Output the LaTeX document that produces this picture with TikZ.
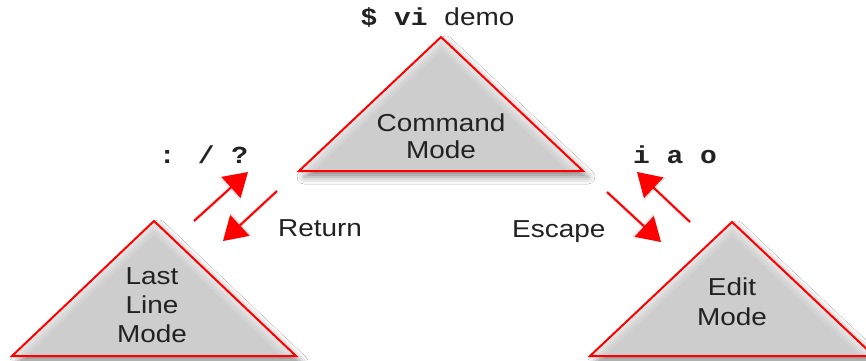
\documentclass[tikz,border=0pt]{standalone}
\usepackage{fontspec}
\usetikzlibrary{arrows.meta,shadows.blur,calc}
\newfontfamily\labfont[FakeStretch=1.14]{Liberation Sans}
\newfontfamily\cmdfont[FakeStretch=1.14]{Liberation Mono}
\definecolor{modered}{HTML}{FF0000}
\definecolor{modegray}{HTML}{CDCDCD}
\definecolor{ink}{HTML}{222222}

\tikzset{
  modeface/.style={fill=modegray,
    blur shadow={shadow xshift=5pt, shadow yshift=-6pt,
                 shadow blur radius=7pt, shadow opacity=45}},
  modeedge/.style={draw=modered, line width=2pt, line join=miter},
  modelabel/.style={font=\labfont\fontsize{24.5}{28}\selectfont,
                    text=ink, align=center, inner sep=0pt},
  keylabel/.style={font=\cmdfont\bfseries\fontsize{24.5}{28}\selectfont,
                   text=ink, inner sep=0pt},
  switch/.style={draw=modered, line width=2pt,
                 -{Triangle[length=23pt,width=28pt]}},
  switchshade/.style={draw=black, line width=4pt, opacity=0.10,
                      -{Triangle[length=25pt,width=31pt]}},
}

% One mode triangle: left base corner, apex, right base corner
\newcommand\modeshape[3]{%
  \path[modeface] (#1) -- (#2) -- (#3) -- cycle;
  \begin{scope}
    \clip (#1) -- (#2) -- (#3) -- cycle;
    \foreach \w/\o in {20/0.12,14/0.15,9/0.2,4/0.3}
      \draw[white, line width=\w pt, opacity=\o, line join=round]
        (#1) -- (#2) -- (#3);
  \end{scope}
  \draw[modeedge] (#1) -- (#2) -- (#3) -- cycle;
}

% One mode switch arrow with its soft shadow
\newcommand\modeswitch[2]{%
  \draw[switchshade, shift={(4,4)}] (#1) -- (#2);
  \draw[switch] (#1) -- (#2);
}

\begin{document}
\begin{tikzpicture}[x=1pt, y=-1pt]
  \clip (0,0) rectangle (866,360);
  \fill[white] (0,0) rectangle (866,360);

  % triangle corners
  \coordinate (cmdL) at (299,171);
  \coordinate (cmdA) at (441,37);
  \coordinate (cmdR) at (583,171);
  \coordinate (lastL) at (12,356);
  \coordinate (lastA) at (154,221);
  \coordinate (lastR) at (296,356);
  \coordinate (editL) at (590,356);
  \coordinate (editA) at (732,222);
  \coordinate (editR) at (874,356);

  \modeshape{cmdL}{cmdA}{cmdR}
  \modeshape{lastL}{lastA}{lastR}
  \modeshape{editL}{editA}{editR}

  % mode names
  \node[modelabel, font=\labfont\fontsize{24.5}{27}\selectfont]
    (command) at (441,136) {Command\\Mode};
  \node[modelabel, font=\labfont\fontsize{24.5}{29}\selectfont]
    (lastline) at (152,305.5) {Last\\Line\\Mode};
  \node[modelabel, font=\labfont\fontsize{24.5}{30}\selectfont]
    (edit) at (732,301.5) {Edit\\Mode};

  % keys and commands
  \node[keylabel, anchor=base] (start) at (437.5,25)
    {{\cmdfont\bfseries\$ vi }{\labfont\mdseries demo}};
  \node[keylabel, anchor=base] (lastkeys) at (203.5,163) {: / ?};
  \node[keylabel, anchor=base] (editkeys) at (675,163) {i a o};
  \node[modelabel, anchor=base west] (ret) at (278,236) {Return};
  \node[modelabel, anchor=base west] (esc) at (512,237) {Escape};

  % arrow end points
  \coordinate (toLastS) at (194,221);
  \coordinate (toLastE) at (248,172);
  \coordinate (retS) at (277,191);
  \coordinate (retE) at (223,241);
  \coordinate (escS) at (607,192);
  \coordinate (escE) at (661,242);
  \coordinate (toEditS) at (690,222);
  \coordinate (toEditE) at (637,172);

  \modeswitch{toLastS}{toLastE}
  \modeswitch{retS}{retE}
  \modeswitch{escS}{escE}
  \modeswitch{toEditS}{toEditE}
\end{tikzpicture}
\end{document}
